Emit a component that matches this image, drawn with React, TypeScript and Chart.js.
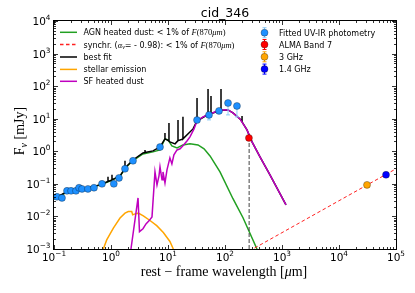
import React, { useEffect, useRef } from 'react';
import { Chart, registerables } from 'chart.js';
Chart.register(...registerables);

// ---- axes ----
const X_MIN = 0.1;
const X_MAX = 1e5;
const Y_MIN = 1e-3;
const Y_MAX = 1e4;
const xTickExponents = [-1, 0, 1, 2, 3, 4, 5];
const yTickExponents = [-3, -2, -1, 0, 1, 2, 3, 4];

// ---- photometry (rest-frame wavelength [um], flux [mJy]) ----
const photLambda = [0.113, 0.138, 0.169, 0.199, 0.243, 0.275, 0.31, 0.394, 0.503, 0.695, 1.12, 1.38, 1.76, 2.43, 7.24, 32.3, 52.4, 78.5, 113, 162];
const photFlux = [0.040, 0.037, 0.061, 0.061, 0.061, 0.076, 0.070, 0.070, 0.076, 0.10, 0.10, 0.152, 0.29, 0.51, 1.35, 9.1, 13.1, 17.4, 30.4, 24.6];
const photFluxLow: (number | null)[] = [null, null, null, null, null, null, null, null, null, null, null, null, null, null, null, null, 9.2, null, 13.1, 11.4];

const almaLambda = [263];
const almaFlux = [2.57];
const ghz3Lambda = [31000];
const ghz3Flux = [0.093];
const ghz14Lambda = [66800];
const ghz14Flux = [0.19];

// ---- model components ----
const synchLambda = [330, 100000];
const synchFlux = [0.00107, 0.29];

const almaMarkLambda = [265, 265];
const almaMarkFlux = [0.001, 2.57];

const agnLambda = [0.1, 0.169, 0.323, 0.641, 0.96, 1.44, 1.83, 2.43, 3.64, 5.46, 7.24, 8.17, 8.85, 10.0, 11.7, 14.4, 18.3, 24.3, 33.6, 42.9, 54.6, 81.7, 138, 207, 364];
const agnFlux = [0.034, 0.056, 0.069, 0.092, 0.122, 0.172, 0.32, 0.52, 0.83, 0.96, 1.10, 1.81, 2.40, 2.24, 1.47, 1.27, 1.57, 1.69, 1.57, 1.19, 0.72, 0.233, 0.035, 0.0091, 0.001];

const bestLambda = [0.1, 0.169, 0.323, 0.641, 0.886, 0.886, 0.886, 0.96, 1.041, 1.041, 1.041, 1.44, 1.76, 1.76, 1.76, 1.83, 2.43, 3.64, 3.95, 3.95, 3.95, 5.46, 7.24, 8.85, 8.85, 8.85, 10.4, 10.4, 10.4, 10.8, 13.3, 14.98, 14.98, 14.98, 18.3, 18.3, 18.3, 27.5, 32.3, 32.3, 32.3, 50.4, 50.4, 50.4, 54.6, 56.8, 56.8, 56.8, 81.7, 85.1, 85.1, 85.1, 113, 138, 183, 199, 199, 199, 243, 298, 411, 615, 1175];
const bestFlux = [0.035, 0.057, 0.070, 0.093, 0.118, 0.164, 0.118, 0.124, 0.133, 0.189, 0.133, 0.176, 0.30, 0.508, 0.30, 0.33, 0.54, 0.89, 0.92, 1.10, 0.92, 1.03, 1.36, 2.40, 3.67, 2.40, 2.08, 7.43, 2.08, 1.94, 1.69, 2.13, 9.18, 2.13, 2.40, 11.4, 2.40, 4.86, 8.57, 43.5, 8.57, 13.5, 82.0, 13.5, 14.0, 14.3, 50.0, 14.3, 17.8, 18.2, 82.0, 18.2, 18.6, 15.1, 9.86, 8.0, 12.2, 8.0, 4.53, 1.94, 0.67, 0.189, 0.0227];

const stellarLambda = [0.733, 0.841, 1.10, 1.44, 1.76, 2.01, 2.31, 2.40, 2.64, 3.01, 3.69, 4.83, 6.34, 8.28, 10.8, 12.4];
const stellarFlux = [0.001, 0.0019, 0.0044, 0.0089, 0.0126, 0.0141, 0.0141, 0.0112, 0.0120, 0.0126, 0.0104, 0.0075, 0.0052, 0.0032, 0.0017, 0.001];

const sfLambda = [2.24, 2.98, 3.16, 3.64, 4.11, 4.64, 5.24, 5.91, 6.41, 6.95, 7.24, 7.85, 8.17, 8.85, 9.60, 10.8, 11.7, 12.7, 14.4, 16.3, 18.3, 21.5, 24.3, 28.6, 32.3, 41.1, 54.6, 72.4, 88.5, 113, 138, 183, 243, 298, 411, 615, 1175];
const sfFlux = [0.001, 0.037, 0.0034, 0.0042, 0.0059, 0.0073, 0.0097, 0.233, 0.093, 0.176, 0.332, 0.133, 0.233, 0.107, 0.269, 0.628, 0.41, 0.776, 1.10, 1.19, 1.47, 2.08, 2.77, 4.86, 8.57, 11.4, 14.0, 17.3, 18.6, 18.6, 15.1, 9.86, 4.53, 1.94, 0.67, 0.189, 0.0227];

// ---- styles ----
const C_AGN = '#22a022';
const C_SYNCH = '#ff2020';
const C_BEST = '#000000';
const C_STELLAR = '#ffa500';
const C_SF = '#bf00bf';
const C_PHOT = '#1e90ff';
const C_PHOT_ERR = '#8ccbf7';
const C_ALMA = '#ff0000';
const C_3GHZ = '#ffa500';
const C_14GHZ = '#0000ff';

const SANS = '"DejaVu Sans", sans-serif';
const SERIF = '"Liberation Serif", "DejaVu Serif", serif';

const pairs = (xs: number[], ys: (number | null)[]) => xs.map((x, i) => ({ x, y: ys[i] as number }));

type Seg = { t: string; f: string; dy?: number };
function segsWidth(ctx: CanvasRenderingContext2D, segs: Seg[]) {
  let w = 0;
  for (const s of segs) { ctx.font = s.f; w += ctx.measureText(s.t).width; }
  return w;
}
function drawSegs(ctx: CanvasRenderingContext2D, segs: Seg[], x: number, y: number) {
  ctx.textAlign = 'left';
  ctx.textBaseline = 'alphabetic';
  let cx = x;
  for (const s of segs) {
    ctx.font = s.f;
    ctx.fillText(s.t, cx, y + (s.dy || 0));
    cx += ctx.measureText(s.t).width;
  }
}
function drawPow(ctx: CanvasRenderingContext2D, exp: number, x: number, y: number, align: 'center' | 'right') {
  const expStr = exp < 0 ? '\u2212' + Math.abs(exp) : String(exp);
  const segs: Seg[] = [
    { t: '10', f: `10.5px ${SANS}` },
    { t: expStr, f: `7.3px ${SANS}`, dy: -5 },
  ];
  const w = segsWidth(ctx, segs);
  const x0 = align === 'center' ? x - w / 2 : x - w;
  drawSegs(ctx, segs, x0, y);
}

const sedPlugin = {
  id: 'sedDecor',
  beforeDatasetDraw(chart: any, args: any) {
    if (args.index !== 6) return;
    const ctx: CanvasRenderingContext2D = chart.ctx;
    const xs = chart.scales.x;
    const ys = chart.scales.y;
    ctx.save();
    ctx.strokeStyle = C_PHOT_ERR;
    ctx.lineWidth = 1;
    photLambda.forEach((l, i) => {
      const lo = photFluxLow[i];
      if (lo == null) return;
      const px = xs.getPixelForValue(l);
      const py = ys.getPixelForValue(photFlux[i]);
      const pb = ys.getPixelForValue(lo);
      ctx.beginPath();
      ctx.moveTo(px, py);
      ctx.lineTo(px, pb);
      ctx.moveTo(px - 2, pb);
      ctx.lineTo(px + 2, pb);
      ctx.stroke();
    });
    ctx.restore();
  },
  afterDraw(chart: any) {
    const ctx: CanvasRenderingContext2D = chart.ctx;
    const { left, right, top, bottom } = chart.chartArea;
    const xs = chart.scales.x;
    const ys = chart.scales.y;
    ctx.save();
    ctx.fillStyle = '#000';
    ctx.strokeStyle = '#000';

    // frame
    ctx.lineWidth = 1;
    ctx.strokeRect(Math.round(left) - 0.5, Math.round(top) - 0.5, Math.round(right - left) + 1, Math.round(bottom - top) + 1);

    // ticks (inward, all sides)
    ctx.lineWidth = 0.8;
    const MAJ = 4, MIN = 2;
    ctx.beginPath();
    for (let e = -1; e <= 5; e++) {
      for (let m = 1; m <= 9; m++) {
        const v = m * Math.pow(10, e);
        if (v < X_MIN * 0.999 || v > X_MAX * 1.001) continue;
        const px = Math.round(xs.getPixelForValue(v)) + 0.5;
        const len = m === 1 ? MAJ : MIN;
        ctx.moveTo(px, bottom); ctx.lineTo(px, bottom - len);
        ctx.moveTo(px, top); ctx.lineTo(px, top + len);
      }
    }
    for (let e = -3; e <= 4; e++) {
      for (let m = 1; m <= 9; m++) {
        const v = m * Math.pow(10, e);
        if (v < Y_MIN * 0.999 || v > Y_MAX * 1.001) continue;
        const py = Math.round(ys.getPixelForValue(v)) + 0.5;
        const len = m === 1 ? MAJ : MIN;
        ctx.moveTo(left, py); ctx.lineTo(left + len, py);
        ctx.moveTo(right, py); ctx.lineTo(right - len, py);
      }
    }
    ctx.stroke();

    // tick labels
    xTickExponents.forEach((e) => {
      const px = xs.getPixelForValue(Math.pow(10, e));
      drawPow(ctx, e, px, bottom + 11.5, 'center');
    });
    yTickExponents.forEach((e) => {
      const py = ys.getPixelForValue(Math.pow(10, e));
      drawPow(ctx, e, left - 3.5, py + 4, 'right');
    });

    // title
    ctx.font = `12.5px ${SANS}`;
    ctx.textAlign = 'center';
    ctx.textBaseline = 'alphabetic';
    ctx.fillText('cid_346', (left + right) / 2, 17);

    // x axis label
    const xl: Seg[] = [
      { t: 'rest \u2212 frame wavelength [', f: `14px ${SERIF}` },
      { t: '\u03bc', f: `italic 14px ${SERIF}` },
      { t: 'm]', f: `14px ${SERIF}` },
    ];
    const xlw = segsWidth(ctx, xl);
    drawSegs(ctx, xl, 224 - xlw / 2, 276);

    // y axis label
    const yl: Seg[] = [
      { t: 'F', f: `14px ${SERIF}` },
      { t: '\u03bd', f: `italic 10px ${SERIF}`, dy: 3 },
      { t: ' [mJy]', f: `14px ${SERIF}` },
    ];
    ctx.save();
    ctx.translate(24, 131);
    ctx.rotate(-Math.PI / 2);
    const ylw = segsWidth(ctx, yl);
    drawSegs(ctx, yl, -ylw / 2, 0);
    ctx.restore();

    // left legend (lines)
    const F870: Seg[] = [
      { t: 'F', f: `italic 8.5px ${SERIF}` },
      { t: '(870', f: `8.5px ${SERIF}` },
      { t: '\u03bcm', f: `italic 8.5px ${SERIF}` },
      { t: ')', f: `8.5px ${SERIF}` },
    ];
    const LF = `8px ${SANS}`;
    const leftRows: { color: string; dash: number[]; segs: Seg[]; y: number }[] = [
      { color: C_AGN, dash: [], y: 32.3, segs: [{ t: 'AGN heated dust: < 1% of ', f: LF }, ...F870] },
      { color: C_SYNCH, dash: [3.5, 2.5], y: 44.5, segs: [
        { t: 'synchr. (', f: LF },
        { t: '\u03b1', f: `italic 8.5px ${SERIF}` },
        { t: '\u03bd', f: `italic 6px ${SERIF}`, dy: 1.8 },
        { t: '= - 0.98): < 1% of ', f: LF },
        ...F870,
      ] },
      { color: C_BEST, dash: [], y: 57, segs: [{ t: 'best fit', f: LF }] },
      { color: C_STELLAR, dash: [], y: 69.4, segs: [{ t: 'stellar emission', f: LF }] },
      { color: C_SF, dash: [], y: 81.3, segs: [{ t: 'SF heated dust', f: LF }] },
    ];
    leftRows.forEach((r) => {
      ctx.save();
      ctx.strokeStyle = r.color;
      ctx.lineWidth = 1.5;
      ctx.setLineDash(r.dash);
      ctx.beginPath();
      ctx.moveTo(60, r.y);
      ctx.lineTo(77, r.y);
      ctx.stroke();
      ctx.restore();
      ctx.fillStyle = '#000';
      drawSegs(ctx, r.segs, 83.5, r.y + 3);
    });

    // right legend (markers with error bars)
    const rightRows = [
      { color: C_PHOT, err: C_PHOT_ERR, label: 'Fitted UV-IR photometry', y: 32.7 },
      { color: C_ALMA, err: C_ALMA, label: 'ALMA Band 7', y: 44.5 },
      { color: C_3GHZ, err: C_3GHZ, label: '3 GHz', y: 56.8 },
      { color: C_14GHZ, err: C_14GHZ, label: '1.4 GHz', y: 69.1 },
    ];
    rightRows.forEach((r) => {
      const mx = 264.5;
      ctx.save();
      ctx.strokeStyle = r.err;
      ctx.lineWidth = 1;
      ctx.beginPath();
      ctx.moveTo(mx, r.y - 5); ctx.lineTo(mx, r.y + 5);
      ctx.moveTo(mx - 2, r.y - 5); ctx.lineTo(mx + 2, r.y - 5);
      ctx.moveTo(mx - 2, r.y + 5); ctx.lineTo(mx + 2, r.y + 5);
      ctx.stroke();
      ctx.beginPath();
      ctx.arc(mx, r.y, 3.5, 0, Math.PI * 2);
      ctx.fillStyle = r.color;
      ctx.fill();
      ctx.lineWidth = 0.5;
      ctx.strokeStyle = 'rgba(0,0,0,0.6)';
      ctx.stroke();
      ctx.restore();
      ctx.fillStyle = '#000';
      ctx.font = LF;
      ctx.textAlign = 'left';
      ctx.textBaseline = 'alphabetic';
      ctx.fillText(r.label, 279, r.y + 3);
    });

    ctx.restore();
  },
};

export default function App() {
  const canvasRef = useRef<HTMLCanvasElement | null>(null);

  useEffect(() => {
    if (!canvasRef.current) return;
    const lineDs = (data: any[], color: string, order: number, extra: any = {}) => ({
      type: 'line',
      data,
      showLine: true,
      borderColor: color,
      backgroundColor: color,
      borderWidth: 1.5,
      pointRadius: 0,
      pointHoverRadius: 0,
      fill: false,
      tension: 0,
      order,
      ...extra,
    });
    const pointDs = (data: any[], color: string, order: number) => ({
      type: 'scatter',
      data,
      showLine: false,
      pointRadius: 3.5,
      pointHoverRadius: 3.5,
      pointBackgroundColor: color,
      pointBorderColor: 'rgba(0,0,0,0.6)',
      pointBorderWidth: 0.5,
      order,
      clip: false,
    });

    const chart = new Chart(canvasRef.current, {
      type: 'scatter',
      data: {
        datasets: [
          lineDs(pairs(agnLambda, agnFlux), C_AGN, 10) as any,
          lineDs(pairs(synchLambda, synchFlux), C_SYNCH, 9, { borderWidth: 1, borderDash: [3.5, 2.5] }) as any,
          lineDs(pairs(almaMarkLambda, almaMarkFlux), '#444444', 8, { borderWidth: 1, borderDash: [4, 2] }) as any,
          lineDs(pairs(bestLambda, bestFlux), C_BEST, 7) as any,
          lineDs(pairs(stellarLambda, stellarFlux), C_STELLAR, 6) as any,
          lineDs(pairs(sfLambda, sfFlux), C_SF, 5) as any,
          pointDs(pairs(photLambda, photFlux), C_PHOT, 4) as any,
          pointDs(pairs(almaLambda, almaFlux), C_ALMA, 3) as any,
          pointDs(pairs(ghz3Lambda, ghz3Flux), C_3GHZ, 2) as any,
          pointDs(pairs(ghz14Lambda, ghz14Flux), C_14GHZ, 1) as any,
        ],
      },
      options: {
        animation: false,
        responsive: false,
        events: [],
        layout: { padding: { left: 54, right: 19, top: 21, bottom: 44 } },
        scales: {
          x: { type: 'logarithmic', min: X_MIN, max: X_MAX, display: false },
          y: { type: 'logarithmic', min: Y_MIN, max: Y_MAX, display: false },
        },
        plugins: {
          legend: { display: false },
          tooltip: { enabled: false },
          title: { display: false },
        },
      },
      plugins: [sedPlugin as any],
    });
    return () => chart.destroy();
  }, []);

  return (
    <div style={{ position: 'absolute', left: 0, top: 0, width: 415, height: 293, background: '#fff' }}>
      <canvas ref={canvasRef} width={415} height={293} style={{ display: 'block' }} />
    </div>
  );
}
